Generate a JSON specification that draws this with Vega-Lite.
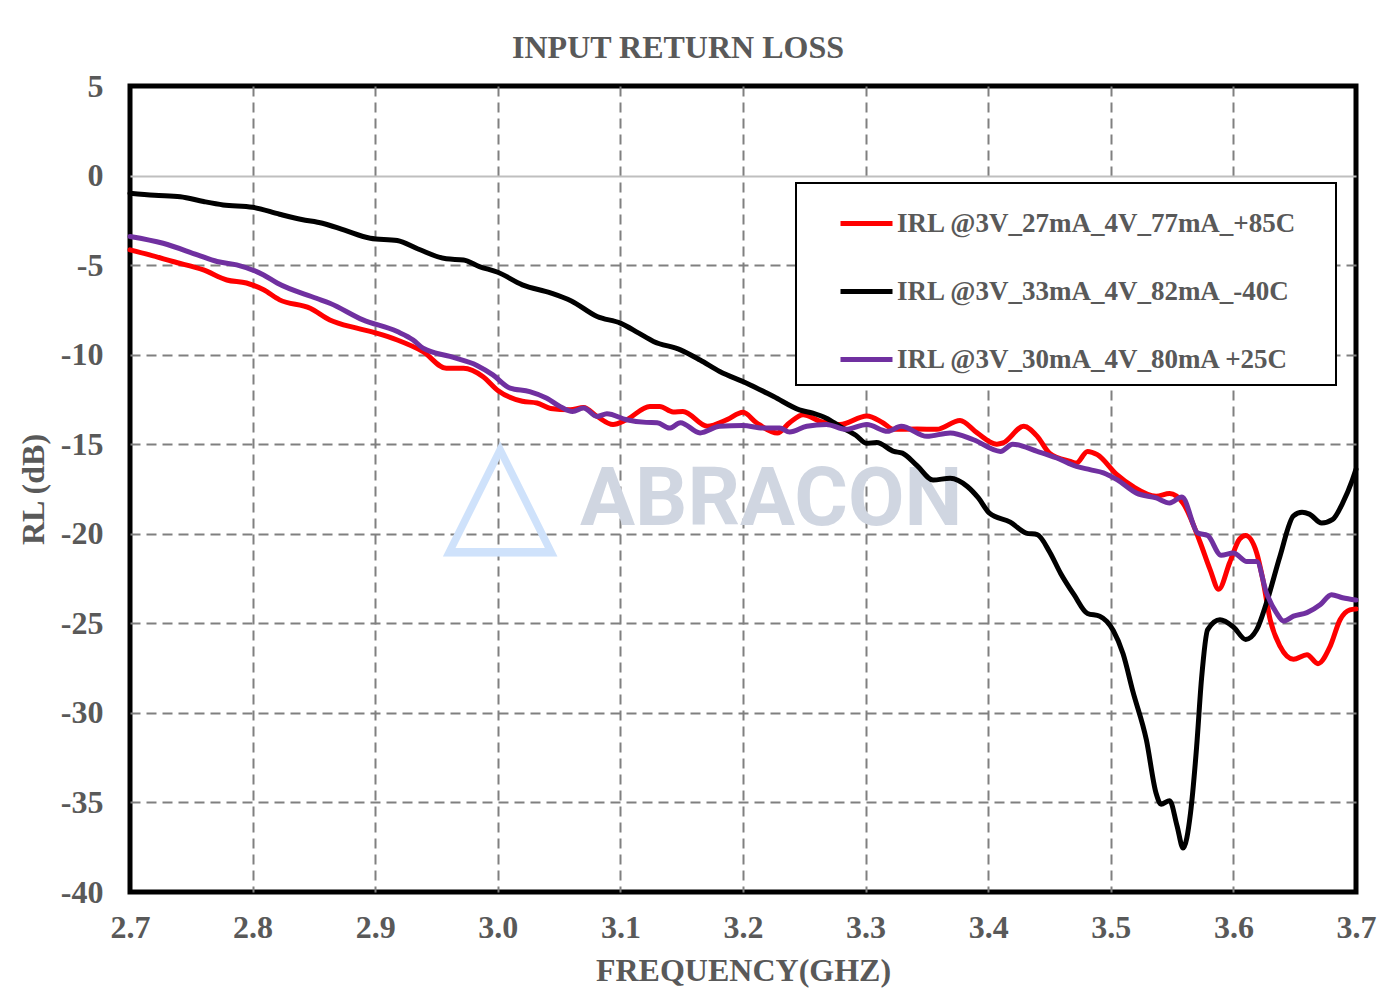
{
  "$schema": "https://vega.github.io/schema/vega-lite/v6.json",
  "width": 1226,
  "height": 806,
  "autosize": {"type": "none"},
  "padding": {"left": 130, "top": 86, "right": 39, "bottom": 114},
  "background": "white",
  "config": {
    "locale": {"number": {"decimal": ".", "thousands": ",", "grouping": [3], "currency": ["$", ""], "minus": "-"}},
    "view": {"stroke": "black", "strokeWidth": 5},
    "font": "Liberation Serif"
  },
  "title": {"text": "INPUT RETURN LOSS", "font": "Liberation Serif", "fontSize": 32, "fontWeight": "bold", "color": "#595959", "anchor": "middle", "dx": -65, "offset": 5},
  "datasets": {
    "curves": [
      {"s": "IRL @3V_27mA_4V_77mA_+85C", "f": 2.700, "rl": -4.15},
      {"s": "IRL @3V_27mA_4V_77mA_+85C", "f": 2.716, "rl": -4.43},
      {"s": "IRL @3V_27mA_4V_77mA_+85C", "f": 2.735, "rl": -4.8},
      {"s": "IRL @3V_27mA_4V_77mA_+85C", "f": 2.760, "rl": -5.27},
      {"s": "IRL @3V_27mA_4V_77mA_+85C", "f": 2.779, "rl": -5.83},
      {"s": "IRL @3V_27mA_4V_77mA_+85C", "f": 2.795, "rl": -6.0},
      {"s": "IRL @3V_27mA_4V_77mA_+85C", "f": 2.809, "rl": -6.38},
      {"s": "IRL @3V_27mA_4V_77mA_+85C", "f": 2.822, "rl": -6.94},
      {"s": "IRL @3V_27mA_4V_77mA_+85C", "f": 2.847, "rl": -7.41},
      {"s": "IRL @3V_27mA_4V_77mA_+85C", "f": 2.863, "rl": -8.06},
      {"s": "IRL @3V_27mA_4V_77mA_+85C", "f": 2.885, "rl": -8.52},
      {"s": "IRL @3V_27mA_4V_77mA_+85C", "f": 2.901, "rl": -8.8},
      {"s": "IRL @3V_27mA_4V_77mA_+85C", "f": 2.918, "rl": -9.18},
      {"s": "IRL @3V_27mA_4V_77mA_+85C", "f": 2.939, "rl": -9.83},
      {"s": "IRL @3V_27mA_4V_77mA_+85C", "f": 2.958, "rl": -10.76},
      {"s": "IRL @3V_27mA_4V_77mA_+85C", "f": 2.972, "rl": -10.76},
      {"s": "IRL @3V_27mA_4V_77mA_+85C", "f": 2.988, "rl": -11.23},
      {"s": "IRL @3V_27mA_4V_77mA_+85C", "f": 3.000, "rl": -12.0},
      {"s": "IRL @3V_27mA_4V_77mA_+85C", "f": 3.020, "rl": -12.6},
      {"s": "IRL @3V_27mA_4V_77mA_+85C", "f": 3.032, "rl": -12.7},
      {"s": "IRL @3V_27mA_4V_77mA_+85C", "f": 3.043, "rl": -13.0},
      {"s": "IRL @3V_27mA_4V_77mA_+85C", "f": 3.059, "rl": -13.07},
      {"s": "IRL @3V_27mA_4V_77mA_+85C", "f": 3.070, "rl": -12.95},
      {"s": "IRL @3V_27mA_4V_77mA_+85C", "f": 3.081, "rl": -13.45},
      {"s": "IRL @3V_27mA_4V_77mA_+85C", "f": 3.094, "rl": -13.9},
      {"s": "IRL @3V_27mA_4V_77mA_+85C", "f": 3.105, "rl": -13.63},
      {"s": "IRL @3V_27mA_4V_77mA_+85C", "f": 3.124, "rl": -12.89},
      {"s": "IRL @3V_27mA_4V_77mA_+85C", "f": 3.132, "rl": -12.89},
      {"s": "IRL @3V_27mA_4V_77mA_+85C", "f": 3.143, "rl": -13.2},
      {"s": "IRL @3V_27mA_4V_77mA_+85C", "f": 3.151, "rl": -13.17},
      {"s": "IRL @3V_27mA_4V_77mA_+85C", "f": 3.171, "rl": -14.0},
      {"s": "IRL @3V_27mA_4V_77mA_+85C", "f": 3.187, "rl": -13.63},
      {"s": "IRL @3V_27mA_4V_77mA_+85C", "f": 3.200, "rl": -13.22},
      {"s": "IRL @3V_27mA_4V_77mA_+85C", "f": 3.211, "rl": -13.8},
      {"s": "IRL @3V_27mA_4V_77mA_+85C", "f": 3.228, "rl": -14.37},
      {"s": "IRL @3V_27mA_4V_77mA_+85C", "f": 3.238, "rl": -13.8},
      {"s": "IRL @3V_27mA_4V_77mA_+85C", "f": 3.249, "rl": -13.35},
      {"s": "IRL @3V_27mA_4V_77mA_+85C", "f": 3.263, "rl": -13.72},
      {"s": "IRL @3V_27mA_4V_77mA_+85C", "f": 3.279, "rl": -13.9},
      {"s": "IRL @3V_27mA_4V_77mA_+85C", "f": 3.301, "rl": -13.42},
      {"s": "IRL @3V_27mA_4V_77mA_+85C", "f": 3.314, "rl": -13.8},
      {"s": "IRL @3V_27mA_4V_77mA_+85C", "f": 3.323, "rl": -14.17},
      {"s": "IRL @3V_27mA_4V_77mA_+85C", "f": 3.342, "rl": -14.15},
      {"s": "IRL @3V_27mA_4V_77mA_+85C", "f": 3.358, "rl": -14.17},
      {"s": "IRL @3V_27mA_4V_77mA_+85C", "f": 3.377, "rl": -13.67},
      {"s": "IRL @3V_27mA_4V_77mA_+85C", "f": 3.391, "rl": -14.37},
      {"s": "IRL @3V_27mA_4V_77mA_+85C", "f": 3.407, "rl": -15.0},
      {"s": "IRL @3V_27mA_4V_77mA_+85C", "f": 3.412, "rl": -14.93},
      {"s": "IRL @3V_27mA_4V_77mA_+85C", "f": 3.429, "rl": -14.0},
      {"s": "IRL @3V_27mA_4V_77mA_+85C", "f": 3.440, "rl": -14.56},
      {"s": "IRL @3V_27mA_4V_77mA_+85C", "f": 3.450, "rl": -15.5},
      {"s": "IRL @3V_27mA_4V_77mA_+85C", "f": 3.467, "rl": -15.96},
      {"s": "IRL @3V_27mA_4V_77mA_+85C", "f": 3.472, "rl": -16.05},
      {"s": "IRL @3V_27mA_4V_77mA_+85C", "f": 3.481, "rl": -15.4},
      {"s": "IRL @3V_27mA_4V_77mA_+85C", "f": 3.489, "rl": -15.58},
      {"s": "IRL @3V_27mA_4V_77mA_+85C", "f": 3.505, "rl": -16.7},
      {"s": "IRL @3V_27mA_4V_77mA_+85C", "f": 3.518, "rl": -17.36},
      {"s": "IRL @3V_27mA_4V_77mA_+85C", "f": 3.537, "rl": -17.9},
      {"s": "IRL @3V_27mA_4V_77mA_+85C", "f": 3.548, "rl": -17.75},
      {"s": "IRL @3V_27mA_4V_77mA_+85C", "f": 3.559, "rl": -18.3},
      {"s": "IRL @3V_27mA_4V_77mA_+85C", "f": 3.573, "rl": -20.5},
      {"s": "IRL @3V_27mA_4V_77mA_+85C", "f": 3.581, "rl": -22.0},
      {"s": "IRL @3V_27mA_4V_77mA_+85C", "f": 3.588, "rl": -23.1},
      {"s": "IRL @3V_27mA_4V_77mA_+85C", "f": 3.597, "rl": -21.6},
      {"s": "IRL @3V_27mA_4V_77mA_+85C", "f": 3.605, "rl": -20.3},
      {"s": "IRL @3V_27mA_4V_77mA_+85C", "f": 3.610, "rl": -20.1},
      {"s": "IRL @3V_27mA_4V_77mA_+85C", "f": 3.619, "rl": -21.07},
      {"s": "IRL @3V_27mA_4V_77mA_+85C", "f": 3.624, "rl": -22.55},
      {"s": "IRL @3V_27mA_4V_77mA_+85C", "f": 3.630, "rl": -24.8},
      {"s": "IRL @3V_27mA_4V_77mA_+85C", "f": 3.638, "rl": -26.27},
      {"s": "IRL @3V_27mA_4V_77mA_+85C", "f": 3.649, "rl": -27.0},
      {"s": "IRL @3V_27mA_4V_77mA_+85C", "f": 3.660, "rl": -26.75},
      {"s": "IRL @3V_27mA_4V_77mA_+85C", "f": 3.669, "rl": -27.25},
      {"s": "IRL @3V_27mA_4V_77mA_+85C", "f": 3.679, "rl": -26.27},
      {"s": "IRL @3V_27mA_4V_77mA_+85C", "f": 3.687, "rl": -24.8},
      {"s": "IRL @3V_27mA_4V_77mA_+85C", "f": 3.695, "rl": -24.25},
      {"s": "IRL @3V_27mA_4V_77mA_+85C", "f": 3.700, "rl": -24.2},

      {"s": "IRL @3V_33mA_4V_82mA_-40C", "f": 2.700, "rl": -0.99},
      {"s": "IRL @3V_33mA_4V_82mA_-40C", "f": 2.720, "rl": -1.1},
      {"s": "IRL @3V_33mA_4V_82mA_-40C", "f": 2.741, "rl": -1.18},
      {"s": "IRL @3V_33mA_4V_82mA_-40C", "f": 2.760, "rl": -1.45},
      {"s": "IRL @3V_33mA_4V_82mA_-40C", "f": 2.776, "rl": -1.64},
      {"s": "IRL @3V_33mA_4V_82mA_-40C", "f": 2.800, "rl": -1.77},
      {"s": "IRL @3V_33mA_4V_82mA_-40C", "f": 2.822, "rl": -2.16},
      {"s": "IRL @3V_33mA_4V_82mA_-40C", "f": 2.840, "rl": -2.45},
      {"s": "IRL @3V_33mA_4V_82mA_-40C", "f": 2.857, "rl": -2.66},
      {"s": "IRL @3V_33mA_4V_82mA_-40C", "f": 2.875, "rl": -3.05},
      {"s": "IRL @3V_33mA_4V_82mA_-40C", "f": 2.896, "rl": -3.5},
      {"s": "IRL @3V_33mA_4V_82mA_-40C", "f": 2.918, "rl": -3.63},
      {"s": "IRL @3V_33mA_4V_82mA_-40C", "f": 2.935, "rl": -4.1},
      {"s": "IRL @3V_33mA_4V_82mA_-40C", "f": 2.958, "rl": -4.65},
      {"s": "IRL @3V_33mA_4V_82mA_-40C", "f": 2.972, "rl": -4.71},
      {"s": "IRL @3V_33mA_4V_82mA_-40C", "f": 2.985, "rl": -5.08},
      {"s": "IRL @3V_33mA_4V_82mA_-40C", "f": 3.000, "rl": -5.4},
      {"s": "IRL @3V_33mA_4V_82mA_-40C", "f": 3.020, "rl": -6.1},
      {"s": "IRL @3V_33mA_4V_82mA_-40C", "f": 3.043, "rl": -6.55},
      {"s": "IRL @3V_33mA_4V_82mA_-40C", "f": 3.060, "rl": -7.0},
      {"s": "IRL @3V_33mA_4V_82mA_-40C", "f": 3.081, "rl": -7.87},
      {"s": "IRL @3V_33mA_4V_82mA_-40C", "f": 3.100, "rl": -8.24},
      {"s": "IRL @3V_33mA_4V_82mA_-40C", "f": 3.115, "rl": -8.8},
      {"s": "IRL @3V_33mA_4V_82mA_-40C", "f": 3.127, "rl": -9.26},
      {"s": "IRL @3V_33mA_4V_82mA_-40C", "f": 3.149, "rl": -9.73},
      {"s": "IRL @3V_33mA_4V_82mA_-40C", "f": 3.165, "rl": -10.3},
      {"s": "IRL @3V_33mA_4V_82mA_-40C", "f": 3.181, "rl": -10.94},
      {"s": "IRL @3V_33mA_4V_82mA_-40C", "f": 3.203, "rl": -11.59},
      {"s": "IRL @3V_33mA_4V_82mA_-40C", "f": 3.225, "rl": -12.34},
      {"s": "IRL @3V_33mA_4V_82mA_-40C", "f": 3.246, "rl": -13.08},
      {"s": "IRL @3V_33mA_4V_82mA_-40C", "f": 3.257, "rl": -13.27},
      {"s": "IRL @3V_33mA_4V_82mA_-40C", "f": 3.268, "rl": -13.55},
      {"s": "IRL @3V_33mA_4V_82mA_-40C", "f": 3.279, "rl": -14.0},
      {"s": "IRL @3V_33mA_4V_82mA_-40C", "f": 3.292, "rl": -14.5},
      {"s": "IRL @3V_33mA_4V_82mA_-40C", "f": 3.301, "rl": -14.95},
      {"s": "IRL @3V_33mA_4V_82mA_-40C", "f": 3.309, "rl": -14.9},
      {"s": "IRL @3V_33mA_4V_82mA_-40C", "f": 3.323, "rl": -15.4},
      {"s": "IRL @3V_33mA_4V_82mA_-40C", "f": 3.330, "rl": -15.5},
      {"s": "IRL @3V_33mA_4V_82mA_-40C", "f": 3.342, "rl": -16.2},
      {"s": "IRL @3V_33mA_4V_82mA_-40C", "f": 3.355, "rl": -17.0},
      {"s": "IRL @3V_33mA_4V_82mA_-40C", "f": 3.369, "rl": -16.9},
      {"s": "IRL @3V_33mA_4V_82mA_-40C", "f": 3.383, "rl": -17.36},
      {"s": "IRL @3V_33mA_4V_82mA_-40C", "f": 3.392, "rl": -18.0},
      {"s": "IRL @3V_33mA_4V_82mA_-40C", "f": 3.401, "rl": -18.85},
      {"s": "IRL @3V_33mA_4V_82mA_-40C", "f": 3.418, "rl": -19.35},
      {"s": "IRL @3V_33mA_4V_82mA_-40C", "f": 3.431, "rl": -19.96},
      {"s": "IRL @3V_33mA_4V_82mA_-40C", "f": 3.440, "rl": -20.05},
      {"s": "IRL @3V_33mA_4V_82mA_-40C", "f": 3.450, "rl": -21.0},
      {"s": "IRL @3V_33mA_4V_82mA_-40C", "f": 3.459, "rl": -22.2},
      {"s": "IRL @3V_33mA_4V_82mA_-40C", "f": 3.470, "rl": -23.4},
      {"s": "IRL @3V_33mA_4V_82mA_-40C", "f": 3.481, "rl": -24.45},
      {"s": "IRL @3V_33mA_4V_82mA_-40C", "f": 3.491, "rl": -24.6},
      {"s": "IRL @3V_33mA_4V_82mA_-40C", "f": 3.502, "rl": -25.4},
      {"s": "IRL @3V_33mA_4V_82mA_-40C", "f": 3.510, "rl": -26.7},
      {"s": "IRL @3V_33mA_4V_82mA_-40C", "f": 3.518, "rl": -28.8},
      {"s": "IRL @3V_33mA_4V_82mA_-40C", "f": 3.529, "rl": -31.5},
      {"s": "IRL @3V_33mA_4V_82mA_-40C", "f": 3.537, "rl": -34.5},
      {"s": "IRL @3V_33mA_4V_82mA_-40C", "f": 3.541, "rl": -35.1},
      {"s": "IRL @3V_33mA_4V_82mA_-40C", "f": 3.548, "rl": -34.9},
      {"s": "IRL @3V_33mA_4V_82mA_-40C", "f": 3.554, "rl": -36.3},
      {"s": "IRL @3V_33mA_4V_82mA_-40C", "f": 3.559, "rl": -37.55},
      {"s": "IRL @3V_33mA_4V_82mA_-40C", "f": 3.565, "rl": -35.6},
      {"s": "IRL @3V_33mA_4V_82mA_-40C", "f": 3.570, "rl": -31.9},
      {"s": "IRL @3V_33mA_4V_82mA_-40C", "f": 3.574, "rl": -28.1},
      {"s": "IRL @3V_33mA_4V_82mA_-40C", "f": 3.579, "rl": -25.35},
      {"s": "IRL @3V_33mA_4V_82mA_-40C", "f": 3.589, "rl": -24.8},
      {"s": "IRL @3V_33mA_4V_82mA_-40C", "f": 3.600, "rl": -25.2},
      {"s": "IRL @3V_33mA_4V_82mA_-40C", "f": 3.610, "rl": -25.9},
      {"s": "IRL @3V_33mA_4V_82mA_-40C", "f": 3.619, "rl": -25.35},
      {"s": "IRL @3V_33mA_4V_82mA_-40C", "f": 3.627, "rl": -23.85},
      {"s": "IRL @3V_33mA_4V_82mA_-40C", "f": 3.638, "rl": -21.25},
      {"s": "IRL @3V_33mA_4V_82mA_-40C", "f": 3.649, "rl": -19.0},
      {"s": "IRL @3V_33mA_4V_82mA_-40C", "f": 3.656, "rl": -18.8},
      {"s": "IRL @3V_33mA_4V_82mA_-40C", "f": 3.662, "rl": -18.9},
      {"s": "IRL @3V_33mA_4V_82mA_-40C", "f": 3.672, "rl": -19.4},
      {"s": "IRL @3V_33mA_4V_82mA_-40C", "f": 3.681, "rl": -19.2},
      {"s": "IRL @3V_33mA_4V_82mA_-40C", "f": 3.689, "rl": -18.3},
      {"s": "IRL @3V_33mA_4V_82mA_-40C", "f": 3.697, "rl": -17.0},
      {"s": "IRL @3V_33mA_4V_82mA_-40C", "f": 3.700, "rl": -16.4},

      {"s": "IRL @3V_30mA_4V_80mA +25C", "f": 2.700, "rl": -3.4},
      {"s": "IRL @3V_30mA_4V_80mA +25C", "f": 2.727, "rl": -3.78},
      {"s": "IRL @3V_30mA_4V_80mA +25C", "f": 2.755, "rl": -4.43},
      {"s": "IRL @3V_30mA_4V_80mA +25C", "f": 2.771, "rl": -4.8},
      {"s": "IRL @3V_30mA_4V_80mA +25C", "f": 2.787, "rl": -4.99},
      {"s": "IRL @3V_30mA_4V_80mA +25C", "f": 2.809, "rl": -5.55},
      {"s": "IRL @3V_30mA_4V_80mA +25C", "f": 2.820, "rl": -6.0},
      {"s": "IRL @3V_30mA_4V_80mA +25C", "f": 2.852, "rl": -6.85},
      {"s": "IRL @3V_30mA_4V_80mA +25C", "f": 2.863, "rl": -7.13},
      {"s": "IRL @3V_30mA_4V_80mA +25C", "f": 2.890, "rl": -8.06},
      {"s": "IRL @3V_30mA_4V_80mA +25C", "f": 2.918, "rl": -8.71},
      {"s": "IRL @3V_30mA_4V_80mA +25C", "f": 2.931, "rl": -9.18},
      {"s": "IRL @3V_30mA_4V_80mA +25C", "f": 2.939, "rl": -9.64},
      {"s": "IRL @3V_30mA_4V_80mA +25C", "f": 2.961, "rl": -10.1},
      {"s": "IRL @3V_30mA_4V_80mA +25C", "f": 2.983, "rl": -10.6},
      {"s": "IRL @3V_30mA_4V_80mA +25C", "f": 2.996, "rl": -11.13},
      {"s": "IRL @3V_30mA_4V_80mA +25C", "f": 3.010, "rl": -11.87},
      {"s": "IRL @3V_30mA_4V_80mA +25C", "f": 3.026, "rl": -12.06},
      {"s": "IRL @3V_30mA_4V_80mA +25C", "f": 3.040, "rl": -12.43},
      {"s": "IRL @3V_30mA_4V_80mA +25C", "f": 3.051, "rl": -12.9},
      {"s": "IRL @3V_30mA_4V_80mA +25C", "f": 3.061, "rl": -13.17},
      {"s": "IRL @3V_30mA_4V_80mA +25C", "f": 3.070, "rl": -12.98},
      {"s": "IRL @3V_30mA_4V_80mA +25C", "f": 3.081, "rl": -13.45},
      {"s": "IRL @3V_30mA_4V_80mA +25C", "f": 3.089, "rl": -13.3},
      {"s": "IRL @3V_30mA_4V_80mA +25C", "f": 3.105, "rl": -13.63},
      {"s": "IRL @3V_30mA_4V_80mA +25C", "f": 3.121, "rl": -13.78},
      {"s": "IRL @3V_30mA_4V_80mA +25C", "f": 3.130, "rl": -13.8},
      {"s": "IRL @3V_30mA_4V_80mA +25C", "f": 3.140, "rl": -14.1},
      {"s": "IRL @3V_30mA_4V_80mA +25C", "f": 3.149, "rl": -13.8},
      {"s": "IRL @3V_30mA_4V_80mA +25C", "f": 3.165, "rl": -14.37},
      {"s": "IRL @3V_30mA_4V_80mA +25C", "f": 3.181, "rl": -14.0},
      {"s": "IRL @3V_30mA_4V_80mA +25C", "f": 3.200, "rl": -13.95},
      {"s": "IRL @3V_30mA_4V_80mA +25C", "f": 3.216, "rl": -14.1},
      {"s": "IRL @3V_30mA_4V_80mA +25C", "f": 3.230, "rl": -14.1},
      {"s": "IRL @3V_30mA_4V_80mA +25C", "f": 3.238, "rl": -14.32},
      {"s": "IRL @3V_30mA_4V_80mA +25C", "f": 3.252, "rl": -14.0},
      {"s": "IRL @3V_30mA_4V_80mA +25C", "f": 3.268, "rl": -13.9},
      {"s": "IRL @3V_30mA_4V_80mA +25C", "f": 3.284, "rl": -14.17},
      {"s": "IRL @3V_30mA_4V_80mA +25C", "f": 3.301, "rl": -13.9},
      {"s": "IRL @3V_30mA_4V_80mA +25C", "f": 3.318, "rl": -14.28},
      {"s": "IRL @3V_30mA_4V_80mA +25C", "f": 3.329, "rl": -14.0},
      {"s": "IRL @3V_30mA_4V_80mA +25C", "f": 3.350, "rl": -14.56},
      {"s": "IRL @3V_30mA_4V_80mA +25C", "f": 3.369, "rl": -14.37},
      {"s": "IRL @3V_30mA_4V_80mA +25C", "f": 3.388, "rl": -14.75},
      {"s": "IRL @3V_30mA_4V_80mA +25C", "f": 3.410, "rl": -15.4},
      {"s": "IRL @3V_30mA_4V_80mA +25C", "f": 3.420, "rl": -15.0},
      {"s": "IRL @3V_30mA_4V_80mA +25C", "f": 3.440, "rl": -15.4},
      {"s": "IRL @3V_30mA_4V_80mA +25C", "f": 3.456, "rl": -15.77},
      {"s": "IRL @3V_30mA_4V_80mA +25C", "f": 3.472, "rl": -16.24},
      {"s": "IRL @3V_30mA_4V_80mA +25C", "f": 3.483, "rl": -16.42},
      {"s": "IRL @3V_30mA_4V_80mA +25C", "f": 3.494, "rl": -16.6},
      {"s": "IRL @3V_30mA_4V_80mA +25C", "f": 3.505, "rl": -16.98},
      {"s": "IRL @3V_30mA_4V_80mA +25C", "f": 3.521, "rl": -17.73},
      {"s": "IRL @3V_30mA_4V_80mA +25C", "f": 3.537, "rl": -18.0},
      {"s": "IRL @3V_30mA_4V_80mA +25C", "f": 3.548, "rl": -18.28},
      {"s": "IRL @3V_30mA_4V_80mA +25C", "f": 3.558, "rl": -17.95},
      {"s": "IRL @3V_30mA_4V_80mA +25C", "f": 3.571, "rl": -19.96},
      {"s": "IRL @3V_30mA_4V_80mA +25C", "f": 3.579, "rl": -20.1},
      {"s": "IRL @3V_30mA_4V_80mA +25C", "f": 3.590, "rl": -21.2},
      {"s": "IRL @3V_30mA_4V_80mA +25C", "f": 3.600, "rl": -21.07},
      {"s": "IRL @3V_30mA_4V_80mA +25C", "f": 3.611, "rl": -21.55},
      {"s": "IRL @3V_30mA_4V_80mA +25C", "f": 3.619, "rl": -21.55},
      {"s": "IRL @3V_30mA_4V_80mA +25C", "f": 3.627, "rl": -23.3},
      {"s": "IRL @3V_30mA_4V_80mA +25C", "f": 3.635, "rl": -24.4},
      {"s": "IRL @3V_30mA_4V_80mA +25C", "f": 3.641, "rl": -24.87},
      {"s": "IRL @3V_30mA_4V_80mA +25C", "f": 3.649, "rl": -24.6},
      {"s": "IRL @3V_30mA_4V_80mA +25C", "f": 3.660, "rl": -24.4},
      {"s": "IRL @3V_30mA_4V_80mA +25C", "f": 3.671, "rl": -23.95},
      {"s": "IRL @3V_30mA_4V_80mA +25C", "f": 3.680, "rl": -23.4},
      {"s": "IRL @3V_30mA_4V_80mA +25C", "f": 3.689, "rl": -23.57},
      {"s": "IRL @3V_30mA_4V_80mA +25C", "f": 3.700, "rl": -23.7}
    ]
  },
  "layer": [
    {
      "data": {"values": [{"mark": "ABRACON"}]},
      "mark": {"type": "text", "font": "Roboto", "fontWeight": "bold", "fontSize": 82, "color": "#d0d6e1", "baseline": "middle", "align": "center"},
      "encoding": {
        "x": {"datum": 3.223, "type": "quantitative"},
        "y": {"datum": -18.1, "type": "quantitative"},
        "text": {"field": "mark"}
      }
    },
    {
      "data": {"values": [{"mark": "△"}]},
      "mark": {"type": "text", "font": "DejaVu Sans", "fontWeight": "bold", "fontSize": 150, "color": "#cfe2fb", "baseline": "middle", "align": "center"},
      "encoding": {
        "x": {"datum": 3.002, "type": "quantitative"},
        "y": {"datum": -17.7, "type": "quantitative"},
        "text": {"field": "mark"}
      }
    },
    {
      "data": {"name": "curves"},
      "mark": {"type": "line", "strokeWidth": 5, "interpolate": "monotone", "strokeCap": "round", "strokeJoin": "round"},
      "encoding": {
        "x": {
          "field": "f", "type": "quantitative",
          "scale": {"domain": [2.7, 3.7], "nice": false, "zero": false},
          "axis": {
            "title": "FREQUENCY(GHZ)",
            "values": [2.7, 2.8, 2.9, 3.0, 3.1, 3.2, 3.3, 3.4, 3.5, 3.6, 3.7],
            "format": ".1f",
            "grid": true, "gridDash": [10, 6], "gridColor": "#808080", "gridWidth": 2,
            "gridOpacity": {"condition": {"test": "datum.value <= 2.701 || datum.value >= 3.699", "value": 0}, "value": 1},
            "domain": false, "ticks": false,
            "labelFlush": false, "labelOverlap": false,
            "labelPadding": 20,
            "labelFont": "Liberation Serif", "labelFontSize": 32, "labelFontWeight": "bold", "labelColor": "#595959",
            "titleFont": "Liberation Serif", "titleFontSize": 32, "titleFontWeight": "bold", "titleColor": "#595959",
            "titlePadding": 12
          }
        },
        "y": {
          "field": "rl", "type": "quantitative",
          "scale": {"domain": [-40, 5], "nice": false, "zero": false},
          "axis": {
            "title": "RL (dB)",
            "values": [-40, -35, -30, -25, -20, -15, -10, -5, 0, 5],
            "format": "d",
            "grid": true,
            "gridDash": {"condition": {"test": "datum.value === 0", "value": []}, "value": [10, 6]},
            "gridColor": {"condition": {"test": "datum.value === 0", "value": "#bfbfbf"}, "value": "#808080"},
            "gridOpacity": {"condition": {"test": "datum.value === 5 || datum.value === -40", "value": 0}, "value": 1},
            "gridWidth": 2,
            "domain": false, "ticks": false,
            "labelOverlap": false,
            "labelPadding": 27,
            "labelFont": "Liberation Serif", "labelFontSize": 32, "labelFontWeight": "bold", "labelColor": "#595959",
            "titleFont": "Liberation Serif", "titleFontSize": 32, "titleFontWeight": "bold", "titleColor": "#595959",
            "titlePadding": 10
          }
        },
        "color": {
          "field": "s", "type": "nominal", "sort": null,
          "scale": {
            "domain": ["IRL @3V_27mA_4V_77mA_+85C", "IRL @3V_33mA_4V_82mA_-40C", "IRL @3V_30mA_4V_80mA +25C"],
            "range": ["#ff0000", "#000000", "#7030a0"]
          },
          "legend": {
            "title": null,
            "orient": "none", "legendX": 666, "legendY": 97,
            "fillColor": "white", "strokeColor": "black",
            "padding": 12,
            "symbolType": "stroke", "symbolSize": 2704, "symbolStrokeWidth": 5, "symbolOffset": 30,
            "labelFont": "Liberation Serif", "labelFontSize": 27, "labelFontWeight": "bold", "labelColor": "#595959",
            "labelOffset": 2, "labelLimit": 700,
            "labelExpr": "datum.label + '\u00a0\u2800'",
            "rowPadding": 26,
            "encode": {"legend": {"update": {"strokeWidth": {"value": 2}}}}
          }
        }
      }
    }
  ]
}
